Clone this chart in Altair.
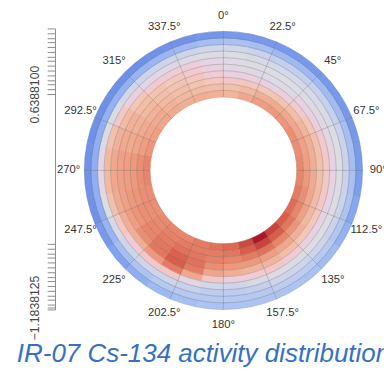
import math
import altair as alt
import pandas as pd

# Relative activity level (0 = lowest, 100 = highest)
# 32 angular sectors of 11.25 deg (clockwise from 0 deg), 10 rings listed inner -> outer
sector_deg = 11.25
activity = [
    [68, 64, 60, 56, 54, 52, 50, 46, 35, 20],
    [72, 67, 61, 56, 53, 51, 48, 44, 34, 20],
    [75, 70, 62, 56, 52, 50, 47, 42, 32, 20],
    [76, 71, 63, 57, 53, 50, 47, 42, 32, 20],
    [77, 72, 65, 59, 55, 52, 48, 43, 33, 20],
    [78, 73, 68, 62, 57, 53, 49, 43, 33, 20],
    [78, 74, 70, 64, 59, 54, 50, 44, 34, 20],
    [79, 75, 70, 64, 60, 55, 50, 44, 34, 21],
    [80, 76, 71, 65, 60, 55, 50, 44, 35, 22],
    [82, 78, 72, 66, 60, 55, 50, 44, 36, 25],
    [85, 80, 74, 67, 61, 55, 50, 44, 37, 29],
    [88, 83, 77, 69, 62, 56, 50, 45, 39, 33],
    [93, 88, 80, 72, 65, 58, 51, 45, 40, 35],
    [100, 93, 84, 75, 68, 60, 52, 45, 40, 36],
    [92, 88, 82, 76, 68, 58, 48, 42, 38, 36],
    [86, 83, 80, 76, 70, 57, 45, 40, 38, 36],
    [84, 82, 81, 78, 73, 60, 46, 40, 38, 36],
    [82, 82, 83, 84, 82, 72, 54, 43, 38, 34],
    [80, 82, 84, 87, 88, 82, 60, 45, 38, 32],
    [80, 81, 82, 83, 83, 76, 60, 45, 36, 28],
    [79, 79, 80, 80, 78, 70, 58, 45, 34, 24],
    [78, 78, 78, 77, 75, 70, 61, 47, 30, 20],
    [78, 78, 77, 76, 74, 71, 64, 50, 28, 18],
    [80, 78, 76, 75, 74, 72, 67, 54, 28, 18],
    [80, 78, 76, 75, 74, 72, 67, 54, 28, 18],
    [77, 75, 73, 71, 71, 69, 64, 51, 28, 17],
    [75, 73, 71, 69, 69, 66, 60, 49, 29, 17],
    [73, 71, 69, 67, 65, 62, 56, 46, 29, 17],
    [71, 69, 67, 65, 63, 59, 54, 45, 30, 17],
    [70, 67, 65, 63, 61, 58, 53, 45, 31, 18],
    [70, 66, 63, 61, 59, 57, 52, 45, 32, 18],
    [69, 65, 61, 58, 56, 54, 51, 46, 34, 19],
]

angle_values = [0, 22.5, 45, 67.5, 90, 112.5, 135, 157.5,
                180, 202.5, 225, 247.5, 270, 292.5, 315, 337.5]
angle_labels = ["0°", "22.5°", "45°", "67.5°", "90°", "112.5°", "135°", "157.5°",
                "180°", "202.5°", "225°", "247.5°", "270°", "292.5°", "315°", "337.5°"]

cbar_ticks_top = [0.64, 0.68, 0.72, 0.76, 0.80, 0.84, 0.88, 0.92,
                  0.96, 1.00, 1.04, 1.08, 1.12, 1.16, 1.20]
cbar_ticks_bottom = [-1.20, -1.16, -1.12, -1.08, -1.04, -1.00, -0.96, -0.92,
                     -0.88, -0.84, -0.80, -0.76, -0.72, -0.68, -0.64]
cbar_labels = [0.6388100, -1.1838125]

title_text = "IR-07 Cs-134 activity distribution"

n_rings = 10

# ---- tables built from the lists above ----
cells = pd.DataFrame([
    {"a0": k * sector_deg, "a1": (k + 1) * sector_deg, "r0": r, "r1": r + 1, "v": val}
    for k, row in enumerate(activity) for r, val in enumerate(row)
])
grid = pd.DataFrame([
    {"a0": a, "a1": a + 22.5, "r0": r, "r1": r + 1}
    for a in angle_values for r in range(n_rings)
])
labels = pd.DataFrame({"ang": angle_values, "txt": angle_labels})
cbar = pd.DataFrame({"v": cbar_labels})
title_df = pd.DataFrame({"t": [title_text]})

CX, CY = 172, 145
theta_scale = alt.Scale(domain=[0, 360], range=[0, 2 * math.pi])
radius_scale = alt.Scale(type="linear", domain=[0, n_rings], range=[75, 142], zero=False, nice=False)
color_scale = alt.Scale(
    domain=[0, 12.5, 25, 37.5, 50, 62.5, 75, 87.5, 100],
    range=["#4a64cc", "#6283e0", "#86a6f2", "#b3c8f2", "#dcdde3",
           "#f2c6b2", "#f09d82", "#da5f4c", "#b01428"],
)

heat = alt.Chart(cells).mark_arc(strokeWidth=0.6).encode(
    theta=alt.Theta("a0:Q", scale=theta_scale, stack=False),
    theta2="a1:Q",
    radius=alt.Radius("r0:Q", scale=radius_scale),
    radius2="r1:Q",
    color=alt.Color("v:Q", scale=color_scale, legend=None),
    stroke=alt.Stroke("v:Q", scale=color_scale, legend=None),
    x=alt.value(CX),
    y=alt.value(CY),
)

gridlines = alt.Chart(grid).mark_arc(
    fillOpacity=0, stroke="#666666", strokeOpacity=0.28, strokeWidth=0.6
).encode(
    theta=alt.Theta("a0:Q", scale=theta_scale, stack=False),
    theta2="a1:Q",
    radius=alt.Radius("r0:Q", scale=radius_scale),
    radius2="r1:Q",
    x=alt.value(CX),
    y=alt.value(CY),
)

angle_text = alt.Chart(labels).mark_text(
    font="Liberation Sans", fontSize=11.5, color="#333333", align="center", baseline="middle"
).encode(
    theta=alt.Theta("ang:Q", scale=theta_scale, stack=False),
    radius=alt.value(158),
    text="txt:N",
    x=alt.value(CX),
    y=alt.value(CY),
)

label_expr = ("abs(datum.value - 0.63881) < 1e-6 || abs(datum.value + 1.1838125) < 1e-6 "
              "? format(datum.value, '.7f') : ''")
colorbar = alt.Chart(cbar).mark_point(opacity=0).encode(
    y=alt.Y("v:Q",
            scale=alt.Scale(domain=[-1.2, 1.2], nice=False, zero=False),
            axis=alt.Axis(
                title="",
                values=cbar_ticks_top + cbar_ticks_bottom + cbar_labels,
                labelExpr=label_expr,
                labelOverlap=False,
                labelAngle=270,
                labelAlign="center",
                labelBaseline="bottom",
                labelPadding=6,
                labelFont="Liberation Sans",
                labelFontSize=12.5,
                labelColor="#444444",
                tickSize=8,
                tickColor="#8a8a8a",
                tickWidth=1,
                domainColor="#8a8a8a",
                domainWidth=1,
                grid=False,
            )),
    x=alt.value(CX),
)

title_mark = alt.Chart(title_df).mark_text(
    font="Liberation Sans", fontSize=26.5, fontStyle="italic", color="#3570c4",
    align="left", baseline="alphabetic"
).encode(
    text="t:N",
    x=alt.value(-39),
    y=alt.value(341),
)

chart = alt.layer(heat, gridlines, angle_text, colorbar, title_mark).properties(
    width=336,
    height=287,
    padding={"left": 48, "top": 17, "right": 0, "bottom": 60},
    autosize=alt.AutoSizeParams(type="none"),
    background="white",
).configure_view(stroke=None)

chart.save("out.html", embed_options={"renderer": "svg", "actions": False})
